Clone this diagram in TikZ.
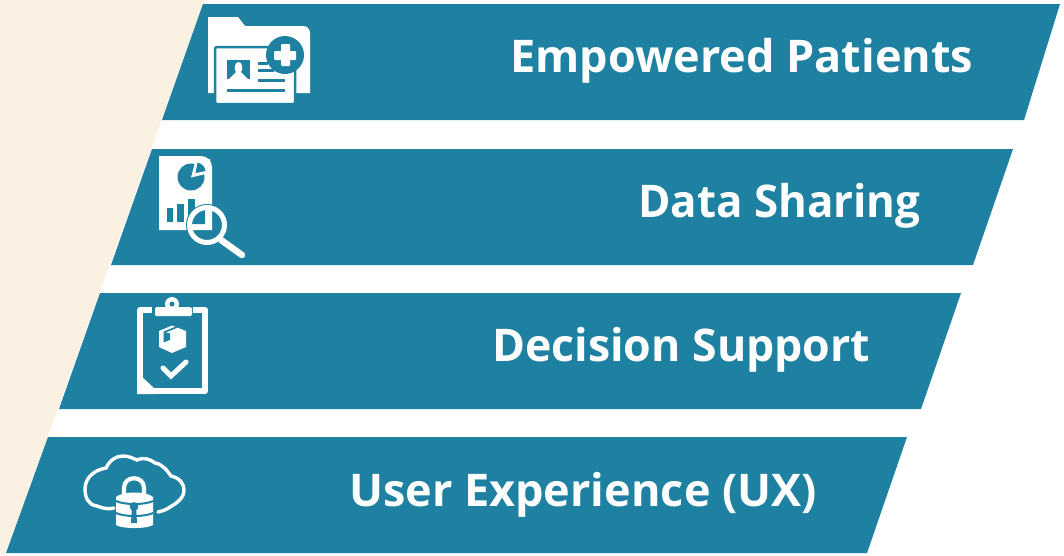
\documentclass[tikz,border=0pt]{standalone}
\usepackage{fontspec}
\setmainfont{Open Sans}
\definecolor{teal0}{HTML}{1E81A2}
\definecolor{beige0}{HTML}{FBF1E3}
\tikzset{
  band/.style={fill=teal0,draw=none},
  label0/.style={text=white,font=\fontsize{45}{54}\selectfont\bfseries,anchor=base west,inner sep=0pt},
  wfill/.style={fill=white,draw=none},
  tfill/.style={fill=teal0,draw=none},
  wline/.style={draw=white,fill=none},
  tline/.style={draw=teal0,fill=none},
}
\begin{document}
\begin{tikzpicture}[x=1pt,y=-1pt]
\useasboundingbox (0,0) rectangle (1064,555);
\fill[white] (0,0) rectangle (1064,555);
\fill[beige0] (0,0) -- (205,0) -- (5,555) -- (0,555) -- cycle;
% bands
\path[band] (203,4) -- (1060,4) -- (1024,120) -- (162,120) -- cycle;
\path[band] (152,149) -- (1013,149) -- (973,265) -- (111,265) -- cycle;
\path[band] (100,293) -- (961,293) -- (921,409) -- (59,409) -- cycle;
\path[band] (48,437) -- (907,437) -- (867,553) -- (6,553) -- cycle;
% labels
\node[label0] (t1) at (510,72) {Empowered Patients};
\node[label0] (t2) at (638,217) {\scalebox{0.975}[1]{Data Sharing}};
\node[label0] (t3) at (492,361) {\scalebox{0.992}[1]{Decision Support}};
\node[label0] (t4) at (349,506) {User Experience (UX)};
% icon 1
\path[wfill] (208,17) -- (238,17) [rounded corners=1pt] -- (245,26) [rounded corners=0pt] -- (303,26) .. controls (307,26) and (310,29) .. (310,33) -- (310,93) -- (208,93) -- cycle;
\path[fill=white,draw=teal0,line width=2.5pt,rounded corners=2pt] (215,47) rectangle (295,104);
\path[tfill] (285,55) circle (19);
\path[wfill,rounded corners=1pt] (281,44) rectangle (290,66);
\path[wfill,rounded corners=1pt] (274,51) rectangle (296,60);
\path[tfill] (227,60) rectangle (250,79);
\path[wfill] (238.5,62) .. controls (234,62) and (234,70) .. (236,72) -- (229,79) -- (248,79) -- (241,72) .. controls (243,70) and (243,62) .. (238.5,62) -- cycle;
\path[tfill] (258,62) rectangle (268,64.5);
\path[tfill] (258,69) rectangle (274,71.5);
\path[tfill] (258,79) rectangle (285,82);
\path[tfill] (227,88.5) rectangle (285,91.5);
% icon 2
\path[wfill] (159,156) -- (201,156) .. controls (207,156) and (212,161) .. (212,167) -- (212,230) -- (159,230) -- cycle;
\path[tfill] (191,177) circle (13.5);
\path[wfill] (191,177.5) -- (196,159) -- (210,159) -- (210,173) -- cycle;
\path[tfill] (197.5,162.5) .. controls (202,163.5) and (205,167) .. (205.5,171) -- (195.5,173) -- cycle;
\path[tfill] (167,208) rectangle (173,222);
\path[tfill] (177,204) rectangle (184,222);
\path[tfill] (188,199) rectangle (195,216);
\path[tfill] (207,225) circle (21);
\path[wfill] (205,208) -- (212,208) -- (212,230) -- (192,230) -- (192,224) -- (205,224) -- cycle;
\path[tfill] (205,224) -- (205,210) .. controls (198,210.5) and (193,216) .. (192,224) -- cycle;
\path[wline,line width=5pt] (207,225) circle (17.5);
\path[wline,line width=6.5pt,line cap=round] (221,240) -- (242,255);
% icon 3
\path[wline,line width=6pt,line join=round] (152,310) -- (140,310) -- (140,391) -- (205,391) -- (205,310) -- (193,310);
\path[wfill] (137,376) -- (141,376) -- (155,389) -- (155,394) -- (137,394) -- cycle;
\path[wfill,rounded corners=1.5pt] (155,316) -- (155,307) -- (192,307) -- (192,316) -- cycle;
\path[wfill] (172,304) circle (7);
\path[tfill] (172,304) circle (2.5);
\path[wfill] (159,331) -- (172,325.5) -- (186,331) -- (186,347) -- (172,353) -- (159,347) -- cycle;
\path[tline,line width=1.6pt] (177,327) -- (164.5,332) -- (164.5,342);
\path[tfill] (164.5,342) -- (170,340) -- (170,333.5) -- (164.5,332) -- cycle;
\path[wline,line width=5pt,line cap=round,line join=miter] (163,368) -- (171,376) -- (186,362);
% icon 4
\path[wline,line width=3.4pt,line cap=round] (114,508) .. controls (106,510) and (100,507) .. (97,506) .. controls (88,505) and (85,497) .. (85,489) .. controls (85,478) and (94,470) .. (106,468) .. controls (110,460) and (116,456) .. (123,456) .. controls (130,456) and (134,459) .. (137,460) .. controls (144,457) and (150,459) .. (155,463) .. controls (163,464) and (168,472) .. (171,476) .. controls (180,478) and (184,484) .. (184,490) .. controls (184,498) and (177,503) .. (170,507) .. controls (166,510) and (162,511) .. (158,512);
\path[wline,line width=4.2pt] (124,494) -- (124,488) .. controls (124,475) and (144,475) .. (144,488) -- (144,494);
\path[wfill] (116,497) .. controls (122,491) and (147,491) .. (153,497) -- (153,525) .. controls (147,529) and (122,529) .. (116,525) -- cycle;
\path[tline,line width=2pt] (116,501) .. controls (124,505) and (145,505) .. (153,501);
\path[tline,line width=2pt] (116,513) .. controls (124,517) and (145,517) .. (153,513);
\path[tfill] (134,506.5) circle (4.4);
\path[tfill] (132,506) -- (136,506) -- (137,523) -- (131,523) -- cycle;
\end{tikzpicture}
\end{document}
